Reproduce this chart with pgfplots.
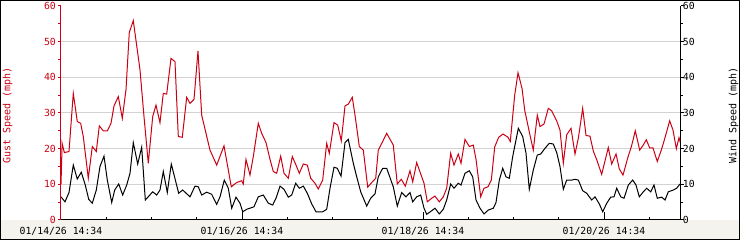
\documentclass[border=0pt]{standalone}
\usepackage{pgfplots}
\pgfplotsset{compat=1.18}
\usepackage{fontspec}
\setmainfont{DejaVu Sans Mono}
\definecolor{gustred}{RGB}{204,0,20}
\definecolor{bgcol}{RGB}{244,243,238}
\definecolor{gridgray}{RGB}{210,210,210}
\pgfplotsset{
  every axis/.append style={
    scale only axis, width=619.7pt, height=214pt,
    at={(61pt,20pt)}, anchor=south west,
    xmin=0, xmax=164.34, ymin=0, ymax=60,
    /pgf/number format/assume math mode=true,
    ticklabel style={font=\fontsize{9.8}{10}\selectfont},
    label style={font=\fontsize{9.8}{10}\selectfont},
  }
}
\begin{document}
\begin{tikzpicture}[x=1pt,y=1pt]
\fill[white] (0,0) rectangle (740,240);
\fill[bgcol] (0,0) rectangle (740,19.5);
\useasboundingbox (0,0) rectangle (740,240);

% main axis: data, x axis
\begin{axis}[
  axis x line*=bottom, axis y line=none,
  axis line style={black, line width=1pt, -},
  tick align=inside, major tick length=8pt, minor tick length=3pt,
  tick style={black, line width=1pt},
  xtick={0,48,96,144},
  xticklabels={01/14/26 14:34,01/16/26 14:34,01/18/26 14:34,01/20/26 14:34},
  minor xtick={12,24,36,60,72,84,108,120,132,156},
  xticklabel style={anchor=north, inner sep=0pt, yshift=-7pt},
  clip=true,
]
\foreach \yy in {10,20,30,40,50} {
  \edef\tmp{\noexpand\draw[gridgray, line width=1pt] (axis cs:0,\yy) -- (axis cs:164.34,\yy);}\tmp
}
\addplot[gustred, line width=1pt, mark=none] coordinates {
(0,10) (0.3,21.5) (0.88,18.9) (2.12,19.2) (3.26,35.5) (4.32,27.6) (5.22,27.1) (5.91,23.4) (7.24,11.7) (8.30,20.6) (9.36,19.2) (10.16,26.4) (11.22,25) (12.28,25) (13.26,27.1) (14.06,32) (15.20,34.6) (16.26,28.5) (17.24,36.6) (18.11,52.6) (19.17,55.9) (20.95,42.1) (22.01,29) (23.15,15.9) (24.32,29) (25.19,32.2) (26.25,27.3) (27.13,35.5) (28.03,35.3) (29.17,45.3) (30.23,44.4) (31.11,23.4) (32.17,23.2) (33.33,34.4) (34.21,32.7) (35.27,33.8) (36.33,47.4) (37.31,29.4) (39.51,19.6) (41.29,15.4) (43.23,20.8) (45.16,9.3) (46.59,10.5) (47.92,11) (48.34,10.1) (49.06,17) (50.12,12.6) (51.00,17.8) (52.32,27.1) (53.22,24.3) (54.37,21.7) (55.43,17) (56.30,13.6) (57.20,13.1) (58.26,17.9) (59.14,13.1) (60.28,11.7) (61.34,17.8) (62.32,15.4) (63.20,13.1) (64.26,15.7) (65.32,15.4) (66.22,11.7) (67.36,10.3) (68.23,8.7) (69.40,11.2) (70.46,21.5) (71.15,18.7) (72.40,27.3) (73.38,26.6) (74.33,22.2) (75.32,32) (76.19,32.5) (77.25,34.4) (77.97,29.4) (79.11,20.6) (80.17,19.6) (81.34,9.2) (82.40,10.5) (83.46,11.7) (84.14,19.6) (85.31,22) (86.37,24.3) (88.12,21) (89.18,10.1) (90.24,11.4) (91.31,9.5) (92.55,13.8) (93.27,10.7) (94.33,16.1) (96.27,10.3) (97.14,5.1) (98.31,6.1) (99.18,6.7) (100.32,5.1) (101.38,6.5) (102.28,8.9) (103.34,18.7) (104.22,15.4) (105.36,18.5) (106.08,15.9) (107.14,22.6) (108.28,20.6) (109.34,21) (110.06,17) (111.30,6.5) (112.18,8.9) (113.24,9.3) (114.12,11.2) (115.02,20.5) (116.08,23.2) (117.22,24.1) (118.54,23.2) (119.15,22) (120.32,35) (121.20,41.3) (122.26,36.9) (122.97,30.8) (124.35,23.9) (125.25,19.6) (126.31,29.4) (127.03,26.2) (128.09,26.9) (129.23,31.3) (130.13,30.6) (131.46,27.8) (132.33,25.2) (133.21,15.9) (134.11,23.9) (135.25,25.7) (136.31,18.5) (137.19,22.9) (138.35,31.3) (139.23,23.7) (140.29,23.5) (141.17,19.3) (142.07,16.9) (143.39,12.8) (144.27,16.6) (145.14,20.3) (146.04,15.7) (147.19,18.5) (148.06,14.3) (149.04,12.6) (150.37,17.7) (151.24,20.5) (152.30,25) (153.47,19.6) (154.35,20.9) (155.22,22.5) (156.12,20.2) (156.99,20.2) (158.13,16.4) (159.20,19.6) (160.10,22.8) (161.42,27.8) (162.30,25.2) (163.18,20) (163.89,23.1) (164.29,21.5)
};
\addplot[black, line width=1pt, mark=none] coordinates {
(0,6.5) (1.06,5.1) (2.12,7.7) (3.26,15.4) (4.32,11.5) (5.38,13.4) (6.44,9.8) (7.35,5.8) (8.30,4.7) (9.36,8.4) (10.34,15) (11.40,17.9) (12.28,11.2) (13.45,4.9) (14.24,8.4) (15.30,10.1) (16.36,7) (17.42,9.8) (18.30,13.1) (19.17,21.7) (20.34,15.7) (21.40,20.4) (22.36,5.6) (24.32,7.9) (25.38,7) (26.25,8.4) (27.13,13.6) (28.19,7.7) (29.25,15.7) (31.21,7.5) (32.27,8.4) (34.21,6.5) (35.54,9.5) (36.41,9.3) (37.31,7) (38.64,7.8) (39.97,7.2) (41.29,4.4) (42.17,6.5) (43.31,11.2) (44.37,8.9) (45.27,3.3) (46.41,6.4) (47.47,4.7) (48.19,2.3) (49.25,3) (51.18,3.7) (52.32,6.5) (53.65,7) (54.98,4.7) (56.14,4.2) (57.02,6.1) (58.08,9.5) (59.14,8.6) (60.28,6.4) (61.18,7) (62.24,10.3) (63.20,8.9) (64.26,9.5) (65.32,7.5) (66.49,4.5) (67.63,2.3) (69.40,2.3) (70.46,3) (71.34,8.9) (72.40,14.8) (73.27,14.5) (74.26,12.3) (75.32,21.7) (76.19,22.6) (77.52,15.9) (78.42,12.1) (79.48,7.9) (81.07,3.9) (82.13,6.1) (83.27,7.3) (84.14,12.1) (85.31,14.5) (86.37,14.5) (88.12,9.3) (89.18,3.9) (90.35,7.7) (91.49,6.5) (92.55,7.7) (93.27,5.1) (94.33,6.5) (95.39,7) (96.27,3.3) (96.98,1.6) (98.31,2.6) (99.18,3.3) (100.32,1.7) (101.38,3) (102.28,5.6) (103.34,10.1) (104.22,8.9) (105.36,10.3) (106.08,9.8) (107.14,13.1) (108.28,13.8) (109.18,12.1) (110.06,5.6) (111.12,3.3) (112.18,1.7) (113.32,2.8) (114.65,3.3) (115.36,4.9) (116.24,11.2) (117.14,14.5) (118.01,12.1) (118.89,11.7) (119.79,17.8) (121.28,25.7) (122.44,23.4) (123.32,18.7) (124.19,8.6) (125.25,14) (126.31,18.2) (127.21,18.5) (128.35,20.1) (129.49,21.5) (130.55,21.3) (131.46,18.9) (132.33,15) (133.21,8.6) (134.11,11.2) (135.44,11.2) (136.31,11.4) (137.19,11.2) (138.35,8.2) (139.41,7.5) (140.74,5.6) (141.62,6.5) (142.76,4.5) (143.66,2.3) (144.72,4.7) (145.78,6.4) (146.66,6.5) (147.37,8.9) (148.43,6.5) (149.31,6.1) (150.45,9.8) (151.61,11.2) (152.49,9.8) (153.36,6.5) (154.42,7.9) (155.32,8.9) (156.38,7.9) (157.26,9.8) (158.13,6.1) (159.30,6.4) (160.18,5.6) (161.05,7.9) (162.38,8.4) (163.27,8.9) (164.15,10.1)
};
\end{axis}

% left axis (gust)
\begin{axis}[
  axis x line=none, axis y line*=left,
  axis line style={gustred, line width=1pt, -},
  tick align=outside, major tick length=3pt, minor tick length=3pt,
  tick style={gustred, line width=1pt},
  ytick={0,10,...,60}, minor y tick num=1,
  yticklabel style={text=gustred, anchor=east, inner sep=0pt, xshift=-2pt},
  ylabel={Gust Speed (mph)},
  every axis y label/.style={at={(axis description cs:-0.0863,0.49)}, rotate=90, anchor=center, text=gustred},
]
\end{axis}

% right axis (wind)
\begin{axis}[
  axis x line=none, axis y line*=right,
  axis line style={black, line width=1pt, -},
  tick align=outside, major tick length=3pt, minor tick length=2pt,
  tick style={black, line width=1pt},
  ytick={0,10,...,60}, minor y tick num=1,
  yticklabel style={text=black, anchor=west, inner sep=0pt, xshift=-1pt},
  ylabel={Wind Speed (mph)},
  every axis y label/.style={at={(axis description cs:1.0852,0.49)}, rotate=90, anchor=center, text=black},
]
\end{axis}

\draw[black, line width=1pt] (0.5,0.5) rectangle (739.5,239.5);
\end{tikzpicture}
\end{document}
